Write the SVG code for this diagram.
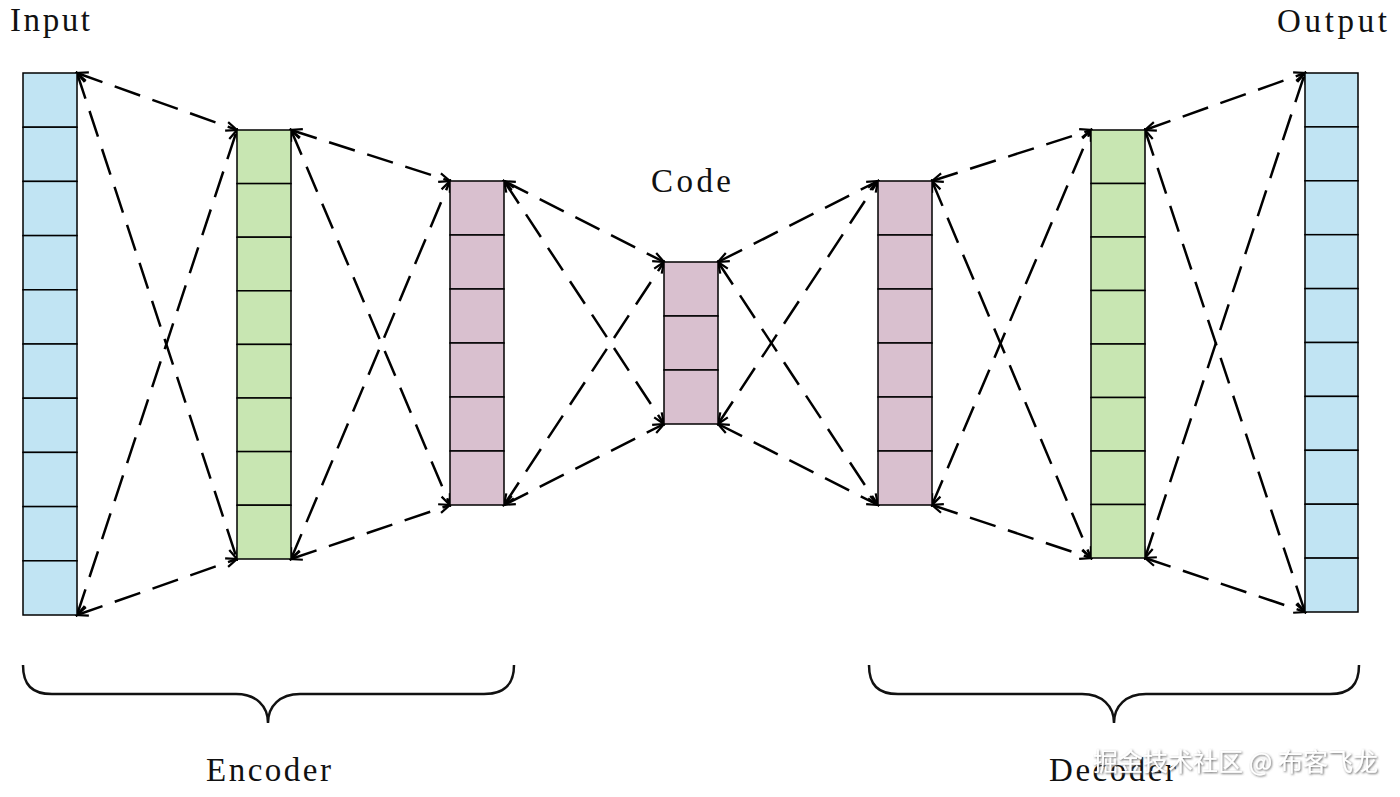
<svg xmlns="http://www.w3.org/2000/svg" width="1400" height="797" viewBox="0 0 1400 797">
<style>
.cell{stroke:#000;stroke-width:1.5}
.blue{fill:#c1e4f3}
.green{fill:#c8e6b2}
.pink{fill:#d9c0cf}
.conn line{stroke:#000;stroke-width:2.5;stroke-dasharray:27 13;fill:none;marker-start:url(#ah);marker-end:url(#ah)}
.lbl{font-family:"Liberation Serif","Times New Roman",serif;font-size:33px;fill:#111}
.brace{fill:none;stroke:#111;stroke-width:2.5}
.wm{font-family:"Noto Sans CJK SC","Noto Sans",sans-serif;font-size:25px;fill:#fff}
</style>
<defs>
<marker id="ah" markerUnits="userSpaceOnUse" markerWidth="16" markerHeight="16" viewBox="0 0 16 16" refX="14" refY="8" orient="auto-start-reverse">
<path d="M3,3.5 L14,8 L3,12.5" fill="none" stroke="#000" stroke-width="2.2"/>
</marker>
<filter id="sh" x="-10%" y="-30%" width="120%" height="160%">
<feDropShadow dx="1" dy="1" stdDeviation="0.8" flood-color="#555" flood-opacity="0.9"/>
</filter>
</defs>
<rect width="1400" height="797" fill="#fff"/>

<g class="conn" id="connectors">
<line x1="77" y1="73" x2="237" y2="130"/>
<line x1="77" y1="615" x2="237" y2="559"/>
<line x1="77" y1="73" x2="237" y2="559"/>
<line x1="77" y1="615" x2="237" y2="130"/>
<line x1="291" y1="130" x2="450" y2="181"/>
<line x1="291" y1="559" x2="450" y2="505"/>
<line x1="291" y1="130" x2="450" y2="505"/>
<line x1="291" y1="559" x2="450" y2="181"/>
<line x1="504" y1="181" x2="664" y2="262"/>
<line x1="504" y1="505" x2="664" y2="424"/>
<line x1="504" y1="181" x2="664" y2="424"/>
<line x1="504" y1="505" x2="664" y2="262"/>
<line x1="718" y1="262" x2="878" y2="181"/>
<line x1="718" y1="424" x2="878" y2="505"/>
<line x1="718" y1="262" x2="878" y2="505"/>
<line x1="718" y1="424" x2="878" y2="181"/>
<line x1="932" y1="181" x2="1091" y2="130"/>
<line x1="932" y1="505" x2="1091" y2="558"/>
<line x1="932" y1="181" x2="1091" y2="558"/>
<line x1="932" y1="505" x2="1091" y2="130"/>
<line x1="1145" y1="130" x2="1305" y2="73"/>
<line x1="1145" y1="558" x2="1305" y2="612"/>
<line x1="1145" y1="130" x2="1305" y2="612"/>
<line x1="1145" y1="558" x2="1305" y2="73"/>
</g>

<g id="input-layer" class="blue">
<rect class="cell" x="23" y="73" width="54" height="54.2"/>
<rect class="cell" x="23" y="127.2" width="54" height="54.2"/>
<rect class="cell" x="23" y="181.4" width="54" height="54.2"/>
<rect class="cell" x="23" y="235.6" width="54" height="54.2"/>
<rect class="cell" x="23" y="289.8" width="54" height="54.2"/>
<rect class="cell" x="23" y="344" width="54" height="54.2"/>
<rect class="cell" x="23" y="398.2" width="54" height="54.2"/>
<rect class="cell" x="23" y="452.4" width="54" height="54.2"/>
<rect class="cell" x="23" y="506.6" width="54" height="54.2"/>
<rect class="cell" x="23" y="560.8" width="54" height="54.2"/>
</g>

<g id="encoder-hidden-1" class="green">
<rect class="cell" x="237" y="130" width="54" height="53.6"/>
<rect class="cell" x="237" y="183.6" width="54" height="53.6"/>
<rect class="cell" x="237" y="237.2" width="54" height="53.6"/>
<rect class="cell" x="237" y="290.8" width="54" height="53.6"/>
<rect class="cell" x="237" y="344.4" width="54" height="53.6"/>
<rect class="cell" x="237" y="398" width="54" height="53.6"/>
<rect class="cell" x="237" y="451.6" width="54" height="53.6"/>
<rect class="cell" x="237" y="505.2" width="54" height="53.8"/>
</g>

<g id="encoder-hidden-2" class="pink">
<rect class="cell" x="450" y="181" width="54" height="54"/>
<rect class="cell" x="450" y="235" width="54" height="54"/>
<rect class="cell" x="450" y="289" width="54" height="54"/>
<rect class="cell" x="450" y="343" width="54" height="54"/>
<rect class="cell" x="450" y="397" width="54" height="54"/>
<rect class="cell" x="450" y="451" width="54" height="54"/>
</g>

<g id="code-layer" class="pink">
<rect class="cell" x="664" y="262" width="54" height="54"/>
<rect class="cell" x="664" y="316" width="54" height="54"/>
<rect class="cell" x="664" y="370" width="54" height="54"/>
</g>

<g id="decoder-hidden-1" class="pink">
<rect class="cell" x="878" y="181" width="54" height="54"/>
<rect class="cell" x="878" y="235" width="54" height="54"/>
<rect class="cell" x="878" y="289" width="54" height="54"/>
<rect class="cell" x="878" y="343" width="54" height="54"/>
<rect class="cell" x="878" y="397" width="54" height="54"/>
<rect class="cell" x="878" y="451" width="54" height="54"/>
</g>

<g id="decoder-hidden-2" class="green">
<rect class="cell" x="1091" y="130" width="54" height="53.5"/>
<rect class="cell" x="1091" y="183.5" width="54" height="53.5"/>
<rect class="cell" x="1091" y="237" width="54" height="53.5"/>
<rect class="cell" x="1091" y="290.5" width="54" height="53.5"/>
<rect class="cell" x="1091" y="344" width="54" height="53.5"/>
<rect class="cell" x="1091" y="397.5" width="54" height="53.5"/>
<rect class="cell" x="1091" y="451" width="54" height="53.5"/>
<rect class="cell" x="1091" y="504.5" width="54" height="53.5"/>
</g>

<g id="output-layer" class="blue">
<rect class="cell" x="1305" y="73" width="53" height="53.9"/>
<rect class="cell" x="1305" y="126.9" width="53" height="53.9"/>
<rect class="cell" x="1305" y="180.8" width="53" height="53.9"/>
<rect class="cell" x="1305" y="234.7" width="53" height="53.9"/>
<rect class="cell" x="1305" y="288.6" width="53" height="53.9"/>
<rect class="cell" x="1305" y="342.5" width="53" height="53.9"/>
<rect class="cell" x="1305" y="396.4" width="53" height="53.9"/>
<rect class="cell" x="1305" y="450.3" width="53" height="53.9"/>
<rect class="cell" x="1305" y="504.2" width="53" height="53.9"/>
<rect class="cell" x="1305" y="558.1" width="53" height="53.9"/>
</g>

<g id="labels">
<text class="lbl" x="10" y="31" textLength="80" lengthAdjust="spacing">Input</text>
<text class="lbl" x="1277" y="32" textLength="110" lengthAdjust="spacing">Output</text>
<text class="lbl" x="651" y="192" textLength="80" lengthAdjust="spacing">Code</text>
</g>

<g id="encoder-brace">
<path class="brace" d="M23,665 C23,685 32,694 52,694 L236,694 C256,694 268,706 268,723 C268,706 280,694 300,694 L484,694 C504,694 514,685 514,665"/>
<text class="lbl" x="206" y="781" textLength="125" lengthAdjust="spacing">Encoder</text>
</g>

<g id="decoder-brace">
<path class="brace" d="M869,665 C869,685 878,694 898,694 L1082,694 C1102,694 1114,706 1114,723 C1114,706 1126,694 1146,694 L1330,694 C1350,694 1359,685 1359,665"/>
<text class="lbl" x="1049" y="781" textLength="127" lengthAdjust="spacing">Decoder</text>
</g>

<text class="wm" x="1093" y="771" textLength="285" lengthAdjust="spacing" filter="url(#sh)">掘金技术社区 @ 布客飞龙</text>
</svg>
